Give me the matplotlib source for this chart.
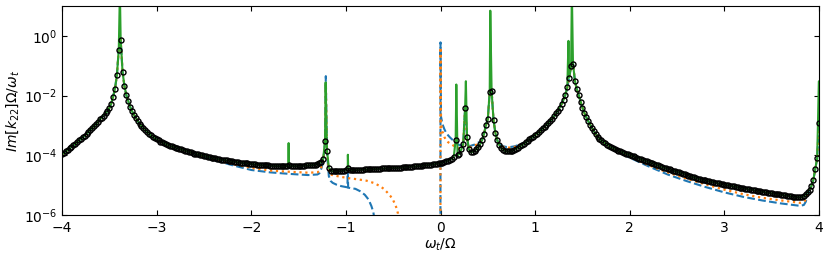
import numpy as np
import matplotlib
matplotlib.use("Agg")
import matplotlib.pyplot as plt  # noqa: E402
from matplotlib.ticker import NullLocator  # noqa: E402

# frequency grid of the marker series (omega_t / Omega)
x_grid = np.linspace(-4.0, 4.0, 401)

# log10 Im[k22] Omega/omega_t of the marker series, 10 values per 0.2 in x
black_log = [
    -3.97, -3.92, -3.87, -3.82, -3.77, -3.72, -3.67, -3.62, -3.56, -3.50,
    -3.45, -3.40, -3.34, -3.28, -3.21, -3.15, -3.08, -3.02, -2.95, -2.88,
    -2.80, -2.74, -2.67, -2.60, -2.52, -2.42, -2.27, -2.04, -1.77, -1.32,
    -0.47, -0.13, -1.21, -1.68, -1.99, -2.19, -2.38, -2.52, -2.64, -2.75,
    -2.85, -2.94, -3.02, -3.09, -3.16, -3.22, -3.28, -3.33, -3.38, -3.43,
    -3.47, -3.50, -3.54, -3.57, -3.60, -3.63, -3.65, -3.68, -3.70, -3.72,
    -3.74, -3.76, -3.78, -3.80, -3.82, -3.84, -3.86, -3.88, -3.90, -3.92,
    -3.94, -3.96, -3.97, -3.99, -4.00, -4.02, -4.03, -4.05, -4.06, -4.08,
    -4.09, -4.10, -4.11, -4.13, -4.14, -4.15, -4.16, -4.17, -4.18, -4.19,
    -4.20, -4.21, -4.22, -4.23, -4.24, -4.25, -4.26, -4.27, -4.27, -4.28,
    -4.29, -4.30, -4.30, -4.31, -4.32, -4.32, -4.33, -4.33, -4.34, -4.34,
    -4.35, -4.35, -4.35, -4.36, -4.36, -4.36, -4.36, -4.36, -4.36, -4.36,
    -4.34, -4.36, -4.36, -4.36, -4.36, -4.35, -4.35, -4.35, -4.35, -4.34,
    -4.34, -4.34, -4.33, -4.32, -4.31, -4.29, -4.26, -4.22, -4.12, -3.51,
    -3.84, -4.41, -4.52, -4.53, -4.53, -4.53, -4.52, -4.52, -4.52, -4.51,
    -4.50, -4.44, -4.50, -4.50, -4.49, -4.49, -4.49, -4.48, -4.48, -4.48,
    -4.47, -4.47, -4.47, -4.46, -4.46, -4.46, -4.45, -4.45, -4.45, -4.44,
    -4.44, -4.44, -4.43, -4.43, -4.43, -4.42, -4.42, -4.42, -4.41, -4.41,
    -4.40, -4.40, -4.39, -4.39, -4.38, -4.38, -4.37, -4.37, -4.36, -4.35,
    -4.35, -4.34, -4.33, -4.33, -4.32, -4.31, -4.30, -4.29, -4.28, -4.27,
    -4.26, -4.24, -4.22, -4.20, -4.18, -4.15, -4.11, -4.06, -3.48, -4.00,
    -3.95, -3.80, -3.62, -2.41, -3.39, -3.80, -3.90, -3.88, -3.85, -3.79,
    -3.72, -3.62, -3.48, -3.28, -3.00, -2.78, -1.88, -1.85, -2.82, -3.25,
    -3.50, -3.65, -3.75, -3.81, -3.85, -3.87, -3.87, -3.86, -3.84, -3.81,
    -3.78, -3.74, -3.70, -3.66, -3.62, -3.57, -3.52, -3.47, -3.42, -3.37,
    -3.32, -3.27, -3.22, -3.16, -3.10, -3.04, -2.98, -2.91, -2.84, -2.77,
    -2.69, -2.60, -2.50, -2.40, -2.28, -2.14, -1.97, -1.72, -1.40, -1.01,
    -0.93, -1.50, -1.78, -1.98, -2.20, -2.40, -2.58, -2.72, -2.85, -2.97,
    -3.08, -3.19, -3.29, -3.37, -3.44, -3.50, -3.55, -3.60, -3.64, -3.68,
    -3.72, -3.75, -3.78, -3.81, -3.84, -3.87, -3.89, -3.92, -3.94, -3.96,
    -3.98, -4.01, -4.03, -4.06, -4.08, -4.11, -4.13, -4.16, -4.18, -4.20,
    -4.23, -4.25, -4.27, -4.30, -4.32, -4.34, -4.36, -4.39, -4.41, -4.43,
    -4.45, -4.47, -4.49, -4.51, -4.53, -4.55, -4.57, -4.59, -4.61, -4.63,
    -4.66, -4.68, -4.70, -4.72, -4.74, -4.76, -4.78, -4.80, -4.81, -4.83,
    -4.84, -4.86, -4.87, -4.89, -4.90, -4.91, -4.93, -4.94, -4.95, -4.97,
    -4.98, -4.99, -5.00, -5.02, -5.03, -5.04, -5.05, -5.07, -5.08, -5.09,
    -5.10, -5.11, -5.12, -5.14, -5.15, -5.16, -5.17, -5.18, -5.19, -5.21,
    -5.22, -5.23, -5.24, -5.25, -5.26, -5.27, -5.28, -5.29, -5.30, -5.31,
    -5.32, -5.33, -5.34, -5.35, -5.36, -5.37, -5.38, -5.39, -5.40, -5.40,
    -5.41, -5.40, -5.37, -5.30, -5.22, -5.15, -5.02, -4.82, -4.45, -4.10,
    -2.92,
]

# narrow resonances resolved only by the green curve
green_spike_x = [-3.388, -1.609, -1.605, -1.601, -1.214, -0.983, -0.979,
                 -0.975, 0.167, 0.268, 0.526, 1.352, 1.388, 3.999]
green_spike_log = [1.5, -4.36, -3.59, -4.36, -1.56, -4.47, -3.98,
                   -4.49, -1.63, -1.52, 0.84, -0.17, 1.5, -1.52]

# blue (dashed) curve where it leaves the marker series
blue_x1 = [-2.60, -2.40, -2.20, -2.00, -1.80, -1.60, -1.40, -1.30, -1.28,
           -1.26, -1.24, -1.22, -1.212, -1.20, -1.18, -1.16, -1.14, -1.10,
           -1.05, -1.00, -0.984, -0.980, -0.976, -0.95, -0.90, -0.85, -0.80,
           -0.76, -0.73, -0.71, -0.69, -0.67, -0.60, -0.001, 0.0, 0.005,
           0.02, 0.04, 0.06, 0.08, 0.10, 0.12, 0.14, 0.16, 0.18, 0.20, 0.22,
           0.24]
blue_log1 = [-3.96, -4.15, -4.33, -4.49, -4.57, -4.62, -4.66, -4.64, -4.60,
             -4.45, -4.20, -3.55, -1.35, -3.90, -4.70, -4.86, -4.92, -4.98,
             -5.03, -5.06, -5.07, -4.55, -5.08, -5.10, -5.12, -5.20, -5.32,
             -5.48, -5.70, -5.90, -6.30, -7.00, -8.00, -8.00, -0.22, -2.70,
             -2.95, -3.12, -3.25, -3.33, -3.40, -3.46, -3.52, -3.56, -3.62,
             -3.66, -3.66, -3.62]
blue_x2 = [0.30, 0.32, 0.34, 0.36, 0.38, 0.40, 0.42]
blue_log2 = [-3.74, -3.68, -3.66, -3.64, -3.60, -3.57, -3.54]
blue_x3 = [0.62, 0.64, 0.66, 0.68, 0.70, 0.72, 0.74, 0.76, 0.78, 0.80, 0.82,
           0.84, 0.86, 0.88, 0.90]
blue_log3 = [-3.62, -3.66, -3.69, -3.71, -3.72, -3.72, -3.72, -3.71, -3.70,
             -3.68, -3.66, -3.63, -3.61, -3.59, -3.56]
blue_x4 = [1.90, 2.00, 2.20, 2.40, 2.60, 2.80, 3.00, 3.20, 3.40, 3.60, 3.70,
           3.80, 3.84, 3.86, 3.88, 3.90]
blue_log4 = [-3.90, -4.08, -4.37, -4.64, -4.86, -5.06, -5.24, -5.39, -5.51,
             -5.61, -5.65, -5.69, -5.66, -5.55, -5.32, -5.16]

# orange (dotted) curve where it leaves the marker series
orange_x1 = [-2.60, -2.40, -2.20, -2.00, -1.80, -1.60, -1.40, -1.30, -1.28,
             -1.26, -1.24, -1.22, -1.212, -1.20, -1.18, -1.16, -1.14, -1.07,
             -0.96, -0.88, -0.78, -0.70, -0.64, -0.60, -0.56, -0.53, -0.50,
             -0.47, -0.45, -0.43, -0.40, -0.001, 0.0, 0.005, 0.02, 0.04, 0.06,
             0.08, 0.10, 0.12, 0.14, 0.16, 0.18, 0.20, 0.22, 0.24]
orange_log1 = [-3.95, -4.13, -4.29, -4.42, -4.51, -4.55, -4.58, -4.57, -4.52,
               -4.40, -4.18, -3.55, -1.60, -3.90, -4.55, -4.64, -4.66, -4.71,
               -4.77, -4.80, -4.85, -4.93, -5.03, -5.12, -5.25, -5.36, -5.50,
               -5.72, -5.94, -6.40, -8.00, -8.00, -0.39, -2.90, -3.20, -3.38,
               -3.50, -3.56, -3.60, -3.64, -3.68, -3.70, -3.74, -3.78, -3.74,
               -3.64]
orange_x2 = [0.30, 0.32, 0.34, 0.36, 0.38, 0.40, 0.42]
orange_log2 = [-3.78, -3.72, -3.70, -3.68, -3.64, -3.60, -3.55]
orange_x3 = [0.62, 0.64, 0.66, 0.68, 0.70, 0.72, 0.74, 0.76, 0.78, 0.80,
             0.82, 0.84, 0.86, 0.88, 0.90]
orange_log3 = [-3.63, -3.68, -3.71, -3.73, -3.74, -3.74, -3.74, -3.73, -3.72,
               -3.70, -3.68, -3.65, -3.62, -3.60, -3.57]
orange_x4 = [1.90, 2.00, 2.20, 2.40, 2.60, 2.80, 3.00, 3.20, 3.40, 3.60,
             3.70, 3.80, 3.84, 3.86, 3.88, 3.90]
orange_log4 = [-3.89, -4.05, -4.33, -4.57, -4.78, -4.97, -5.15, -5.30, -5.42,
               -5.51, -5.55, -5.59, -5.56, -5.48, -5.30, -5.15]


def _merge(base_x, base_y, segments):
    """Replace the base curve inside each segment's x-range by that segment."""
    bx = np.asarray(base_x, float)
    by = np.asarray(base_y, float)
    keep = np.ones(len(bx), bool)
    xs, ys = [], []
    for sx, sy in segments:
        sx = np.asarray(sx, float)
        keep &= ~((bx >= sx.min()) & (bx <= sx.max()))
        xs.append(sx)
        ys.append(np.asarray(sy, float))
    x = np.concatenate([bx[keep]] + xs)
    y = np.concatenate([by[keep]] + ys)
    order = np.argsort(x, kind="stable")
    return x[order], 10.0 ** y[order]


black_x = x_grid
black_y = 10.0 ** np.asarray(black_log)

gx = np.concatenate([x_grid, green_spike_x])
gl = np.concatenate([black_log, green_spike_log])
order = np.argsort(gx, kind="stable")
green_x, green_y = gx[order], 10.0 ** gl[order]

blue_x, blue_y = _merge(x_grid, black_log, [(blue_x1, blue_log1), (blue_x2, blue_log2),
                                            (blue_x3, blue_log3), (blue_x4, blue_log4)])
orange_x, orange_y = _merge(x_grid, black_log, [(orange_x1, orange_log1), (orange_x2, orange_log2),
                                                (orange_x3, orange_log3), (orange_x4, orange_log4)])

fig = plt.figure(figsize=(8.31, 2.57), dpi=100)
ax = fig.add_axes([0.0746, 0.163, 0.911, 0.814])

ax.plot(blue_x, blue_y, ls="--", color="#1f77b4", lw=1.5)
ax.plot(orange_x, orange_y, ls=":", color="#ff7f0e", lw=1.6)
ax.plot(green_x, green_y, ls="-", color="#2ca02c", lw=1.5)
ax.plot(black_x, black_y, ls="none", marker="o", ms=3.6, mfc="none",
        mec="k", mew=1.0)

ax.set_yscale("log")
ax.set_xlim(-4, 4)
ax.set_ylim(1e-6, 10)
ax.set_yticks([1e-6, 1e-4, 1e-2, 1])
ax.yaxis.set_minor_locator(NullLocator())
ax.set_xticks([-4, -3, -2, -1, 0, 1, 2, 3, 4])
ax.tick_params(direction="in", top=True, right=True, labelsize=10)
ax.tick_params(axis="x", pad=4.5)
ax.set_xlabel(r"$\omega_t/\Omega$", fontsize=10, labelpad=1)
ax.set_ylabel(r"$Im[k_{22}]\Omega/\omega_t$", fontsize=10, labelpad=2)

fig.savefig("out.png", dpi=100)
plt.close(fig)
